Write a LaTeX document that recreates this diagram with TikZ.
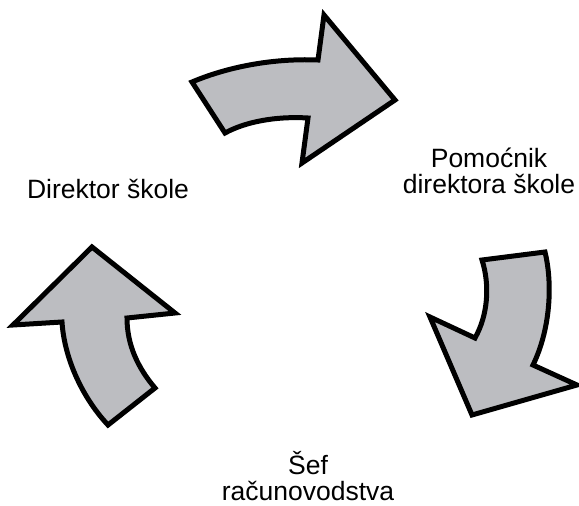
\documentclass[tikz,border=0pt]{standalone}
\usepackage{fontspec}
\setmainfont{Liberation Sans}
\definecolor{arrowgray}{RGB}{188,189,193}
\begin{document}
\begin{tikzpicture}[x=1pt,y=-1pt,
  bigarrow/.style={fill=arrowgray,draw=black,line width=5pt,line join=miter},
  lbl/.style={font=\fontsize{26.5}{26}\selectfont,align=center,inner sep=0pt}]
\useasboundingbox (0,0) rectangle (579,506);
% top arrow
\draw[bigarrow] (192,82) .. controls (225,68) and (270,58) .. (318,60)
  -- (324,15) -- (395,100) -- (302,163) -- (308,118)
  .. controls (275,116) and (245,122) .. (225,133) -- cycle;
% right arrow
\draw[bigarrow] (482,260) -- (545,252)
  .. controls (553,285) and (550,330) .. (533,365)
  -- (577,385) -- (472,415) -- (430,317) -- (475,338)
  .. controls (488,315) and (490,285) .. (482,260) -- cycle;
% left arrow
\draw[bigarrow] (92,247) -- (175,313) -- (127,318)
  .. controls (127,345) and (138,368) .. (155,388)
  -- (108,425)
  .. controls (80,395) and (64,355) .. (62,322)
  -- (13,325) -- cycle;
\node[lbl,anchor=base] (dir) at (108,198) {Direktor škole};
\node[lbl,anchor=base] (pom) at (489,193) {Pomoćnik\\direktora škole};
\node[lbl,anchor=base] (sef) at (308,500) {Šef\\računovodstva};
\end{tikzpicture}
\end{document}
